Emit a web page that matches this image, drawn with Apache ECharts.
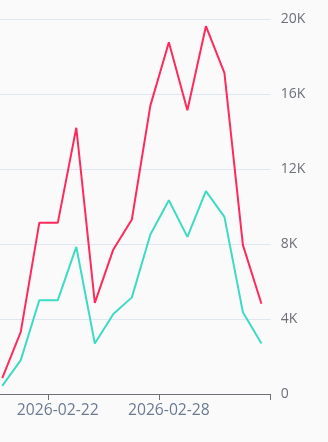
<!DOCTYPE html>
<html>
<head>
<meta charset="utf-8">
<script src="https://cdn.jsdelivr.net/npm/echarts@6/dist/echarts.min.js"></script>
<style>
html,body{margin:0;padding:0;background:#fafafa;overflow:hidden;}
#c{width:335px;height:442px;margin-left:-7px;}
</style>
</head>
<body>
<div id="c"></div>
<script>
const categories = ['2026-02-19','2026-02-20','2026-02-21','2026-02-22','2026-02-23','2026-02-24','2026-02-25','2026-02-26','2026-02-27','2026-02-28','2026-03-01','2026-03-02','2026-03-03','2026-03-04','2026-03-05'];
const redValues = [850, 3320, 9140, 9140, 14220, 4870, 7720, 9320, 15400, 18790, 15150, 19640, 17150, 7950, 4820];
const tealValues = [430, 1810, 5010, 5010, 7860, 2700, 4270, 5160, 8520, 10350, 8390, 10830, 9460, 4360, 2700];
const yTicks = [0, 4000, 8000, 12000, 16000, 20000];
const shownLabels = ['2026-02-22', '2026-02-28'];

const chart = echarts.init(document.getElementById('c'), null, {renderer: 'canvas'});
const showIdx = (i) => shownLabels.indexOf(categories[i]) >= 0;
chart.setOption({
  backgroundColor: '#fafafa',
  animation: false,
  grid: {left: 0, right: 57.3, top: 19.5, bottom: 48},
  xAxis: {
    type: 'category',
    data: categories,
    boundaryGap: true,
    axisLine: {lineStyle: {color: '#6E7079', width: 1}},
    axisTick: {show: true, length: 6, interval: (i) => showIdx(i), lineStyle: {color: '#6E7079'}},
    axisLabel: {interval: (i) => showIdx(i), color: '#6b7a94', fontSize: 15.7, margin: 9, fontFamily: 'Open Sans'}
  },
  yAxis: {
    type: 'value',
    position: 'right',
    min: yTicks[0],
    max: yTicks[yTicks.length - 1],
    interval: yTicks[1] - yTicks[0],
    axisLine: {show: false},
    axisTick: {show: false},
    splitLine: {lineStyle: {color: '#e0e6f1'}},
    axisLabel: {
      color: '#6E7079', fontSize: 14, margin: 10, fontFamily: 'Open Sans',
      formatter: (v) => v === 0 ? '0' : (v / 1000) + 'K'
    }
  },
  series: [
    {type: 'line', data: redValues, showSymbol: false, symbol: 'none',
     lineStyle: {color: '#ff2a5c', width: 2}, itemStyle: {color: '#ff2a5c'}},
    {type: 'line', data: tealValues, showSymbol: false, symbol: 'none',
     lineStyle: {color: '#3fdac3', width: 2}, itemStyle: {color: '#3fdac3'}}
  ]
});
</script>
</body>
</html>
